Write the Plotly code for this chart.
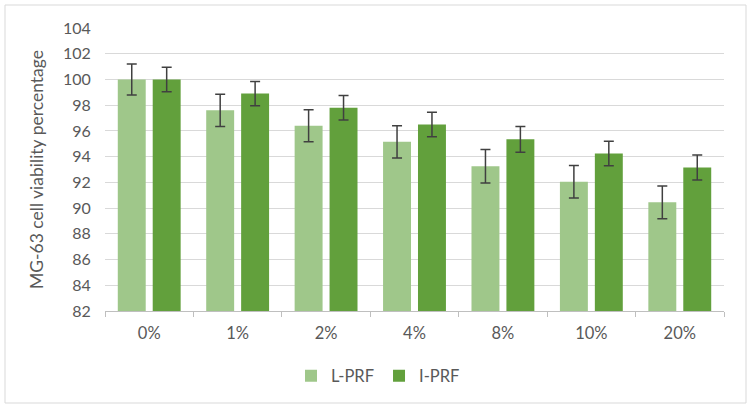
import plotly.graph_objects as go

categories = ["0%", "1%", "2%", "4%", "8%", "10%", "20%"]
l_prf = [100.0, 97.6, 96.4, 95.15, 93.25, 92.05, 90.45]
l_prf_err = [1.2, 1.25, 1.25, 1.25, 1.3, 1.27, 1.27]
i_prf = [100.0, 98.9, 97.8, 96.5, 95.35, 94.25, 93.15]
i_prf_err = [0.95, 0.95, 0.95, 0.95, 1.0, 0.95, 0.97]

FONT = "Lato"
GRAY = "#595959"

fig = go.Figure()
fig.add_trace(go.Bar(
    name="L-PRF", x=categories, y=l_prf,
    marker=dict(color="#9fc78a", line=dict(width=0)),
    error_y=dict(type="data", array=l_prf_err, visible=True,
                 color="#404040", thickness=1.5, width=5),
))
fig.add_trace(go.Bar(
    name="I-PRF", x=categories, y=i_prf,
    marker=dict(color="#62a03c", line=dict(width=0)),
    error_y=dict(type="data", array=i_prf_err, visible=True,
                 color="#404040", thickness=1.5, width=5),
))

W, H = 750, 408
ml, mr, mt, mb = 105, 26, 28, 97
pw = W - ml - mr
ph = H - mt - mb

def px_x(x):
    return (x - ml) / pw

def px_y(y):
    return (H - mb - y) / ph

fig.update_layout(
    width=W, height=H,
    margin=dict(l=ml, r=mr, t=mt, b=mb),
    paper_bgcolor="white", plot_bgcolor="white",
    barmode="group", bargap=0.21, bargroupgap=0.2,
    font=dict(family=FONT, size=16, color=GRAY),
    showlegend=True,
    legend=dict(orientation="h", x=px_x(378), xanchor="center",
                y=px_y(376), yanchor="middle",
                font=dict(family=FONT, size=16.5, color=GRAY),
                itemwidth=30, traceorder="normal"),
    xaxis=dict(
        type="category", showgrid=False, showline=True,
        linecolor="#bfbfbf", linewidth=1,
        ticks="outside", tickson="boundaries", ticklen=5, tickcolor="#bfbfbf",
        ticklabelstandoff=7,
        tickfont=dict(family=FONT, size=16.5, color=GRAY),
    ),
    yaxis=dict(
        range=[82, 104], dtick=2, tick0=82,
        showgrid=True, gridcolor="#d9d9d9", gridwidth=1,
        showline=False, zeroline=False,
        ticks="outside", ticklen=10, tickcolor="rgba(0,0,0,0)",
        tickfont=dict(family=FONT, size=16, color=GRAY),
        title=dict(text="MG-63 cell viability percentage",
                   font=dict(family=FONT, size=17.5, color=GRAY), standoff=14),
    ),
    shapes=[dict(type="rect", xref="paper", yref="paper",
                 x0=px_x(5), x1=px_x(746), y0=px_y(403), y1=px_y(5),
                 line=dict(color="#d9d9d9", width=1), layer="below")],
)

fig.write_html("out.html", config={"displayModeBar": False},
               post_script="document.body.style.margin='0';document.body.style.padding='0';")
